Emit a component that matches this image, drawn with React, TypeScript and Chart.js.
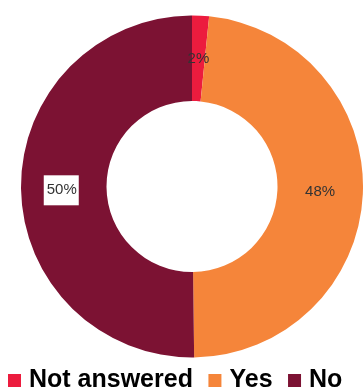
import { useEffect, useRef } from 'react';
import { Chart, registerables } from 'chart.js';

Chart.register(...registerables);

const categories = ['Not answered', 'Yes', 'No'];
const values = [1.6, 48.2, 50.2];
const colors = ['#EC1C3E', '#F5853A', '#7C1233'];

export default function App() {
  const ref = useRef<HTMLCanvasElement>(null);

  useEffect(() => {
    const canvas = ref.current;
    if (!canvas) return;
    const total = values.reduce((a, b) => a + b, 0);

    const legendFit = {
      id: 'legendFit',
      afterInit(chart: any) {
        const lg = chart.legend;
        if (!lg) return;
        const orig = lg.fit;
        lg.fit = function () {
          this.maxWidth = chart.width + 60;
          orig.call(this);
          this.height = 34;
        };
      },
      afterLayout(chart: any) {
        const lg = chart.legend;
        if (!lg) return;
        lg.left = -7.5;
        lg.right = chart.width + 40;
        lg.width = lg.right - lg.left;
        lg.top = 348;
      },
    };

    const sliceLabels = {
      id: 'sliceLabels',
      afterDatasetsDraw(chart: any) {
        const ctx = chart.ctx;
        const meta = chart.getDatasetMeta(0);
        ctx.save();
        ctx.font = '15px "Liberation Sans", Arial, sans-serif';
        ctx.textAlign = 'center';
        ctx.textBaseline = 'middle';
        meta.data.forEach((arc: any, i: number) => {
          const { x, y } = arc.getCenterPoint();
          const text = Math.round((values[i] / total) * 100) + '%';
          if (i === 2) {
            ctx.fillStyle = '#ffffff';
            ctx.fillRect(x - 20, y - 12, 35, 30);
            ctx.fillStyle = '#333333';
            ctx.fillText(text, x - 2, y + 3);
          } else {
            ctx.fillStyle = '#333333';
            ctx.fillText(text, x, y);
          }
        });
        ctx.restore();
      },
    };

    const chart = new Chart(canvas, {
      type: 'doughnut',
      data: {
        labels: categories,
        datasets: [
          {
            data: values,
            backgroundColor: colors,
            borderWidth: 0,
          },
        ],
      },
      options: {
        animation: false,
        responsive: true,
        maintainAspectRatio: false,
        cutout: '50%',
        layout: { padding: { left: 21, right: 0, top: 15, bottom: 0 } },
        plugins: {
          tooltip: { enabled: false },
          legend: {
            position: 'bottom',
            align: 'start',
            labels: {
              usePointStyle: true,
              pointStyle: 'rect',
              boxWidth: 4,
              boxHeight: 13,
              padding: 20,
              color: '#000000',
              font: { family: '"Liberation Sans", Arial, sans-serif', size: 25, weight: 'bold' },
            },
          },
        },
      },
      plugins: [legendFit, sliceLabels],
    });

    return () => chart.destroy();
  }, []);

  return (
    <div style={{ position: 'absolute', left: 0, top: 0, width: 363, height: 392, background: '#fff' }}>
      <canvas ref={ref} />
    </div>
  );
}
